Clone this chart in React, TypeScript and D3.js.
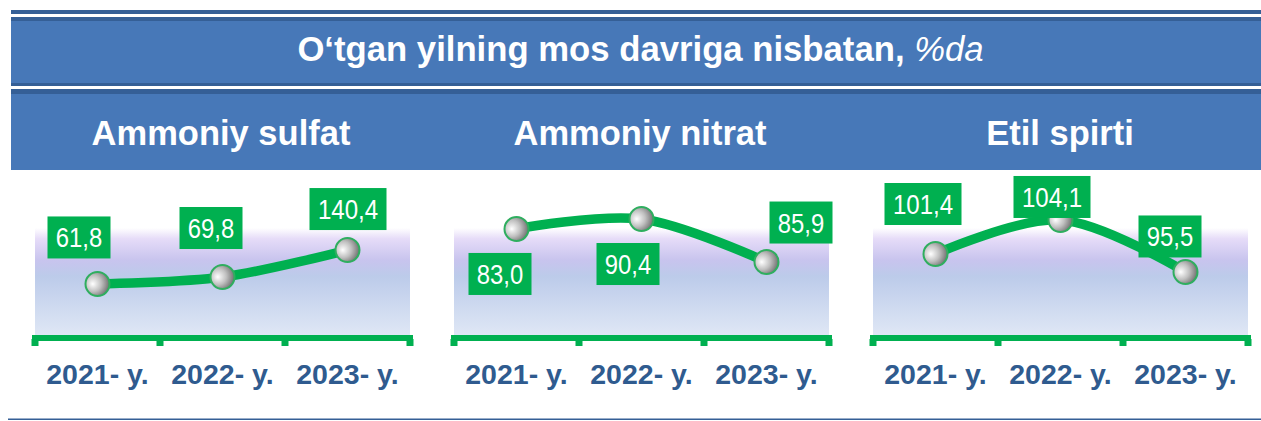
import React from "react";
import * as d3 from "d3";

// ---- data ----
const title = "O‘tgan yilning mos davriga nisbatan, ";
const titleItalic = "%da";
const panelTitles = ["Ammoniy sulfat", "Ammoniy nitrat", "Etil spirti"];
const years = ["2021- y.", "2022- y.", "2023- y."];
// values shown in the labels
const sulfatValues = [61.8, 69.8, 140.4];
const nitratValues = [83.0, 90.4, 85.9];
const spirtValues = [101.4, 104.1, 95.5];
// heights of the line as drawn in the source (0-100 of the plot area; the source line does not follow its labels)
const sulfatLevels = [47.7, 54.2, 79.4];
const nitratLevels = [99.1, 108.4, 68.2];
const spirtLevels = [75.7, 107.5, 58.9];

// ---- layout ----
const W = 1261;
const H = 421;
const panelX0 = [35, 454, 873];
const panelW = 375;
const plotTop = 228;
const axisY = 335;
const titleCenters = [221, 640, 1060];
// label box centre offsets from each point
const labelOffsets = [
  [[-18.5, -46.5], [-11.5, -49], [0.5, -41]],
  [[-16.5, 45], [-13.5, 45], [34.5, -39.5]],
  [[-12.5, -50], [-8.5, -23], [-15.5, -35.5]],
];

const GREEN = "#00b050";
const BLUE = "#4778b8";
const DARK = "#355f96";
const LABEL_BLUE = "#2f5b8f";

const fmt = (v: number) => v.toFixed(1).replace(".", ",");

const panels = [
  { name: panelTitles[0], values: sulfatValues, levels: sulfatLevels },
  { name: panelTitles[1], values: nitratValues, levels: nitratLevels },
  { name: panelTitles[2], values: spirtValues, levels: spirtLevels },
];

const y = d3.scaleLinear().domain([0, 100]).range([axisY, plotTop]);

function Panel({ idx }: { idx: number }) {
  const p = panels[idx];
  const x0 = panelX0[idx];
  const band = d3.scaleBand<string>().domain(years).range([x0, x0 + panelW]).padding(0);
  const cx = (yr: string) => (band(yr) as number) + band.bandwidth() / 2;
  const pts: [number, number][] = years.map((yr, i) => [cx(yr), y(p.levels[i])]);
  const line = d3.line().curve(d3.curveCatmullRom.alpha(0.5))(pts) || "";
  const ticks = [...years.map((yr) => band(yr) as number), x0 + panelW];
  return (
    <g>
      <rect x={x0} y={plotTop} width={panelW} height={axisY - plotTop} fill="url(#bg)" />
      <rect x={x0 - 3} y={axisY} width={panelW + 6} height={6} fill={GREEN} />
      {ticks.map((t, i) => (
        <rect key={i} x={t - 3.5} y={axisY + 4} width={7} height={7} fill={GREEN} />
      ))}
      <path d={line} fill="none" stroke={GREEN} strokeWidth={9.5} strokeLinecap="round" />
      {pts.map((pt, i) => (
        <circle key={i} cx={pt[0]} cy={pt[1]} r={12} fill="url(#marker)" stroke="#2fae5f" strokeWidth={2} />
      ))}
      {pts.map((pt, i) => {
        const txt = fmt(p.values[i]);
        const digits = txt.replace(",", "").length;
        const bw = 21 + 14 * digits;
        const bh = 42;
        const [dx, dy] = labelOffsets[idx][i];
        const lx = pt[0] + dx;
        const ly = pt[1] + dy;
        return (
          <g key={"l" + i}>
            <rect x={lx - bw / 2} y={ly - bh / 2} width={bw} height={bh} fill={GREEN} />
            <text
              x={lx}
              y={ly + 10}
              textAnchor="middle"
              fill="#fff"
              fontFamily="'Liberation Sans', Arial, sans-serif"
              fontSize={27.5}
              textLength={13.8 * digits + 5}
              lengthAdjust="spacingAndGlyphs"
            >
              {txt}
            </text>
          </g>
        );
      })}
      {years.map((yr) => (
        <text
          key={yr}
          x={cx(yr)}
          y={384}
          textAnchor="middle"
          fill={LABEL_BLUE}
          fontFamily="'Liberation Sans', Arial, sans-serif"
          fontWeight="bold"
          fontSize={28.5}
        >
          {yr}
        </text>
      ))}
      <text
        x={titleCenters[idx]}
        y={145}
        textAnchor="middle"
        fill="#fff"
        fontFamily="'Liberation Sans', Arial, sans-serif"
        fontWeight="bold"
        fontSize={34.5}
      >
        {p.name}
      </text>
    </g>
  );
}

export default function App() {
  return (
    <div style={{ position: "absolute", left: 0, top: 0 }}>
      <svg width={W} height={H} style={{ display: "block" }}>
        <defs>
          <linearGradient id="bg" x1="0" y1="0" x2="0" y2="1">
            <stop offset="0%" stopColor="#ffffff" />
            <stop offset="10%" stopColor="#e6dcf8" />
            <stop offset="30%" stopColor="#c8c4ee" />
            <stop offset="45%" stopColor="#bccbea" />
            <stop offset="100%" stopColor="#dfe7f5" />
          </linearGradient>
          <radialGradient id="marker" cx="0.35" cy="0.45" r="0.75" fx="0.3" fy="0.5">
            <stop offset="0%" stopColor="#ffffff" />
            <stop offset="45%" stopColor="#c0c0c0" />
            <stop offset="100%" stopColor="#585858" />
          </radialGradient>
        </defs>
        <rect x={0} y={0} width={W} height={H} fill="#fff" />
        {/* title band */}
        <rect x={11} y={10} width={W - 11} height={4} fill={DARK} />
        <rect x={11} y={17} width={W - 11} height={69} fill={BLUE} />
        <rect x={11} y={17} width={W - 11} height={4} fill={DARK} />
        <rect x={11} y={83} width={W - 11} height={3} fill={DARK} />
        <rect x={11} y={89} width={W - 11} height={81} fill={BLUE} />
        <rect x={11} y={89} width={W - 11} height={5} fill={DARK} />
        <text
          x={640.5}
          y={61}
          textAnchor="middle"
          fill="#fff"
          fontFamily="'Liberation Sans', Arial, sans-serif"
          fontSize={34.7}
        >
          <tspan fontWeight="bold">{title}</tspan>
          <tspan fontStyle="italic">{titleItalic}</tspan>
        </text>
        {panels.map((_, i) => (
          <Panel key={i} idx={i} />
        ))}
        <rect x={8} y={418.5} width={W - 8} height={1.5} fill={DARK} />
      </svg>
    </div>
  );
}
